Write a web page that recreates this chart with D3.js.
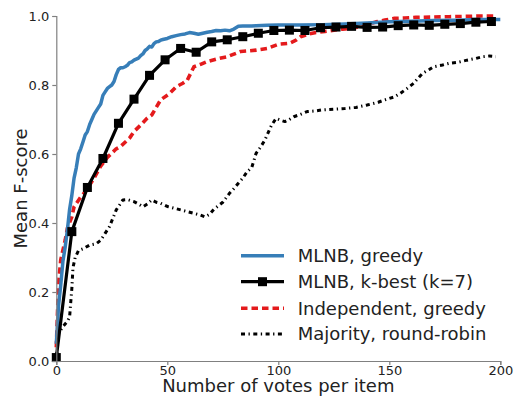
<!DOCTYPE html>
<html>
<head>
<meta charset="utf-8">
<script src="https://cdn.jsdelivr.net/npm/d3@7"></script>
<style>
  html, body { margin: 0; padding: 0; background: #fff; }
  svg text { font-family: "DejaVu Sans", sans-serif; fill: #222; }
</style>
</head>
<body>
<svg id="chart" width="516" height="396"></svg>
<script>
// Mean F-score against the number of votes collected per item.
const greedyX = [0,1,2,3,4,5,6,7,8,9,10,11,12,13,14,15,16,17,18,19,20,21,22,23,24,25,26,27,28,29,30,31,32,33,34,35,36,37,38,39,40,41,42,43,44,45,46,47,48,50,52,54,56,58,60,62,64,66,68,70,72,74,76,78,80,82,84,86,88,90,95,100,110,120,130,140,150,160,170,180,190,200];
const greedyY = [0.05,0.16,0.22,0.29,0.33,0.38,0.44,0.48,0.53,0.56,0.60,0.615,0.635,0.655,0.665,0.685,0.70,0.715,0.725,0.735,0.745,0.77,0.78,0.79,0.795,0.80,0.81,0.83,0.845,0.85,0.85,0.853,0.857,0.865,0.867,0.872,0.875,0.878,0.885,0.89,0.90,0.905,0.912,0.91,0.92,0.925,0.926,0.93,0.932,0.935,0.94,0.943,0.946,0.948,0.952,0.95,0.947,0.95,0.953,0.955,0.958,0.957,0.959,0.957,0.962,0.97,0.971,0.971,0.971,0.972,0.973,0.974,0.974,0.975,0.977,0.98,0.983,0.985,0.987,0.988,0.99,0.99];

const kbestX = [0,7,14,21,28,35,42,49,56,63,70,77,84,91,98,105,112,119,126,133,140,147,154,161,168,175,182,189,196];
const kbestY = [0.01,0.375,0.503,0.587,0.689,0.759,0.828,0.873,0.906,0.895,0.925,0.931,0.940,0.950,0.958,0.959,0.958,0.966,0.968,0.970,0.967,0.968,0.972,0.974,0.973,0.976,0.978,0.982,0.984];

const indepX = [0,1,2,4,5,7,8,11,13,17,20,23,27,29,33,35,38,41,43,47,51,54,57,59,62,65,68,72,77,83,90,95,100,105,108,110,114,117,121,125,129,133,137,140,144,148,152,157,162,170,177,185,192,198];
const indepY = [0.04,0.225,0.293,0.35,0.385,0.418,0.447,0.475,0.49,0.53,0.565,0.59,0.615,0.622,0.646,0.665,0.684,0.704,0.713,0.757,0.775,0.795,0.805,0.814,0.853,0.86,0.868,0.875,0.882,0.897,0.901,0.906,0.918,0.921,0.93,0.94,0.948,0.952,0.955,0.959,0.962,0.964,0.97,0.974,0.983,0.988,0.993,0.994,0.996,0.997,0.998,0.999,1.0,1.0];

const majX = [0,1,3,5,6,6.5,7,7.5,8.5,10,12,15,18,20,22,24,27,30,32,35,37,39,41,43,45,47,50,53,56,59,62,65,67,69,71,73,75,78,80,82,84,86,88,90,92,94,96,97,99,101,103,105,107,110,113,117,120,125,130,135,140,145,148,152,155,158,161,163,165,168,170,174,177,181,185,189,192,195,198];
const majY = [0.0,0.08,0.10,0.115,0.128,0.17,0.21,0.27,0.30,0.32,0.325,0.336,0.34,0.35,0.37,0.39,0.438,0.467,0.468,0.462,0.455,0.447,0.455,0.467,0.46,0.457,0.448,0.443,0.438,0.433,0.428,0.423,0.418,0.425,0.44,0.45,0.46,0.486,0.50,0.515,0.53,0.549,0.56,0.602,0.62,0.641,0.67,0.684,0.703,0.698,0.694,0.70,0.708,0.715,0.723,0.725,0.728,0.73,0.732,0.735,0.742,0.75,0.757,0.765,0.776,0.79,0.805,0.82,0.834,0.845,0.853,0.858,0.863,0.866,0.872,0.877,0.882,0.884,0.882];

const xTicks = [0, 50, 100, 150, 200];
const yTicks = [0.0, 0.2, 0.4, 0.6, 0.8, 1.0];

const seriesNames = ["MLNB, greedy", "MLNB, k-best (k=7)", "Independent, greedy", "Majority, round-robin"];

const svg = d3.select("#chart");
const x = d3.scaleLinear().domain([0, 200]).range([56.3, 500.3]);
const y = d3.scaleLinear().domain([0, 1]).range([361, 16]);

const zip = (xs, ys) => xs.map((v, i) => [v, ys[i]]);
const line = d3.line().x(d => x(d[0])).y(d => y(d[1]));

const plot = svg.append("g");
const styles = [
  { color: "#377eb8", width: 3.5, dash: null },
  { color: "#000000", width: 3.2, dash: null, marker: true },
  { color: "#e41a1c", width: 3.6, dash: "6.5,4" },
  { color: "#000000", width: 3, dash: "4,3.5,1.3,3.5" }
];
const data = [zip(greedyX, greedyY), zip(kbestX, kbestY), zip(indepX, indepY), zip(majX, majY)];

// stacking order: majority, independent, greedy, then k-best with its markers
[3, 2, 0, 1].forEach(i => {
  const s = styles[i];
  plot.append("path")
    .datum(data[i])
    .attr("fill", "none")
    .attr("stroke", s.color)
    .attr("stroke-width", s.width)
    .attr("stroke-dasharray", s.dash)
    .attr("stroke-linejoin", "round")
    .attr("d", line);
  if (s.marker) {
    plot.selectAll(null)
      .data(data[i])
      .enter().append("rect")
      .attr("x", d => x(d[0]) - 4.5)
      .attr("y", d => y(d[1]) - 4.5)
      .attr("width", 9).attr("height", 9)
      .attr("fill", "#000");
  }
});

// axes: left and bottom spines only
const axisColor = "#808080";
const xAxis = svg.append("g")
  .attr("transform", `translate(0,${y(0)})`)
  .call(d3.axisBottom(x).tickValues(xTicks).tickSize(4).tickPadding(1).tickFormat(d3.format("d")));
const yAxis = svg.append("g")
  .attr("transform", `translate(${x(0)},0)`)
  .call(d3.axisLeft(y).tickValues(yTicks).tickSize(4).tickPadding(3).tickFormat(d3.format(".1f")));
[xAxis, yAxis].forEach(g => {
  g.select(".domain").attr("stroke", axisColor).attr("stroke-width", 1.2);
  g.selectAll(".tick line").attr("stroke", axisColor).attr("stroke-width", 1.2);
  g.selectAll(".tick text").attr("font-size", 13).attr("fill", "#222")
    .attr("font-family", "DejaVu Sans, sans-serif");
});

svg.append("text")
  .attr("x", (x(0) + x(200)) / 2).attr("y", 391.5)
  .attr("text-anchor", "middle").attr("font-size", 18)
  .text("Number of votes per item");
svg.append("text")
  .attr("transform", `translate(27,${(y(0) + y(1)) / 2}) rotate(-90)`)
  .attr("text-anchor", "middle").attr("font-size", 18)
  .text("Mean F-score");

// legend
const legend = svg.append("g");
const rowY = [255.7, 281.7, 308.3, 334];
seriesNames.forEach((name, i) => {
  const s = styles[i];
  legend.append("line")
    .attr("x1", 241).attr("x2", 284)
    .attr("y1", rowY[i]).attr("y2", rowY[i])
    .attr("stroke", s.color).attr("stroke-width", s.width)
    .attr("stroke-dasharray", s.dash);
  if (s.marker) {
    legend.append("rect")
      .attr("x", 262.5 - 4.5).attr("y", rowY[i] - 4.5)
      .attr("width", 9).attr("height", 9).attr("fill", "#000");
  }
  legend.append("text")
    .attr("x", 297.7).attr("y", rowY[i]).attr("dy", "0.35em")
    .attr("font-size", 18)
    .text(name);
});
</script>
</body>
</html>
